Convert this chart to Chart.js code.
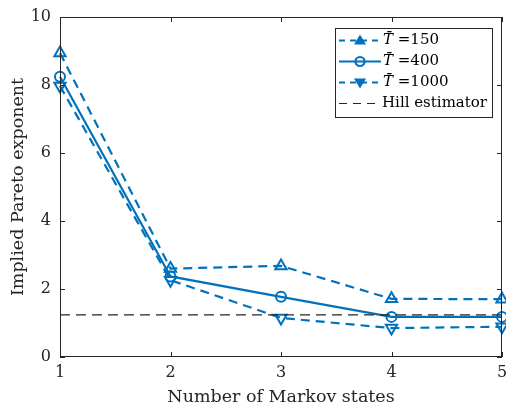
<!DOCTYPE html>
<html>
<head>
<meta charset="utf-8">
<script src="https://cdn.jsdelivr.net/npm/chart.js@4/dist/chart.umd.min.js"></script>
<style>
  html, body { margin: 0; padding: 0; background: #fff; }
  #wrap { width: 506px; height: 408px; }
</style>
</head>
<body>
<div id="wrap"><canvas id="paretoChart" width="506" height="408"></canvas></div>
<script>
// data
const markovStates = ['1', '2', '3', '4', '5'];
const t150 = [8.94, 2.60, 2.68, 1.71, 1.70];
const t400 = [8.24, 2.37, 1.77, 1.18, 1.18];
const t1000 = [7.97, 2.26, 1.15, 0.85, 0.89];
const hillValue = 1.24;
const hill = markovStates.map(() => hillValue);
const yTicks = [0, 2, 4, 6, 8, 10];

const blue = '#0072BD';
const serif = '"DejaVu Serif", "Liberation Serif", serif';
const noPad = () => ({ left: 0, top: 0, right: 0, bottom: 0 });

// box round the plot + inward ticks, like matlab
const boxPlugin = {
    id: 'boxPlugin',
    afterDraw(chart) {
        const { ctx, chartArea: a, scales } = chart;
        ctx.save();
        ctx.strokeStyle = '#262626';
        ctx.lineWidth = 1;
        ctx.strokeRect(a.left + 0.5, a.top + 0.5, a.right - a.left - 1, a.bottom - a.top - 1);
        ctx.beginPath();
        markovStates.forEach((s, i) => {
            const x = Math.round(scales.x.getPixelForValue(i)) + 0.5;
            ctx.moveTo(x, a.bottom); ctx.lineTo(x, a.bottom - 5);
            ctx.moveTo(x, a.top); ctx.lineTo(x, a.top + 5);
        });
        yTicks.forEach(v => {
            const y = Math.round(scales.y.getPixelForValue(v)) + 0.5;
            ctx.moveTo(a.left, y); ctx.lineTo(a.left + 5, y);
            ctx.moveTo(a.right, y); ctx.lineTo(a.right - 5, y);
        });
        ctx.stroke();
        ctx.restore();
    }
};

// legend drawn by hand so the T-bar can be italic
const legendPlugin = {
    id: 'legendPlugin',
    afterDraw(chart) {
        const ctx = chart.ctx;
        const bx = 335, by = 28, bw = 157, bh = 89;
        ctx.save();
        ctx.fillStyle = '#fff';
        ctx.fillRect(bx, by, bw, bh);
        ctx.strokeStyle = '#262626';
        ctx.lineWidth = 1;
        ctx.strokeRect(bx + 0.5, by + 0.5, bw, bh);

        const rows = [
            { label: '150', dash: [6, 5], marker: 'up', color: blue },
            { label: '400', dash: [], marker: 'circle', color: blue },
            { label: '1000', dash: [6, 5], marker: 'down', color: blue },
            { label: 'Hill estimator', dash: [8, 6], marker: null, color: '#262626' }
        ];
        rows.forEach((r, i) => {
            const y = by + 12.5 + i * 21;
            ctx.strokeStyle = r.color;
            ctx.lineWidth = r.marker ? 2.2 : 1.2;
            ctx.setLineDash(r.dash);
            ctx.beginPath();
            ctx.moveTo(bx + 4, y); ctx.lineTo(bx + 46, y);
            ctx.stroke();
            ctx.setLineDash([]);
            const cx = bx + 25;
            if (r.marker === 'up' || r.marker === 'down') {
                const s = r.marker === 'up' ? -1 : 1;
                ctx.fillStyle = r.color;
                ctx.beginPath();
                ctx.moveTo(cx, y + s * 6);
                ctx.lineTo(cx - 6, y - s * 4);
                ctx.lineTo(cx + 6, y - s * 4);
                ctx.closePath();
                ctx.fill();
            } else if (r.marker === 'circle') {
                ctx.beginPath();
                ctx.arc(cx, y, 4.5, 0, Math.PI * 2);
                ctx.stroke();
            }
            ctx.fillStyle = '#000';
            ctx.textBaseline = 'middle';
            if (r.marker) {
                ctx.font = 'italic 15px ' + serif;
                ctx.fillText('T\u0304', bx + 48, y);
                ctx.font = '15px ' + serif;
                ctx.fillText(' =' + r.label, bx + 58, y);
            } else {
                ctx.font = '15px ' + serif;
                ctx.fillText(r.label, bx + 47, y);
            }
        });
        ctx.restore();
    }
};

const ctxPareto = document.getElementById('paretoChart').getContext('2d');

const seriesCfg = (label, data, dash, style, rot) => ({
    label,
    data,
    borderColor: blue,
    backgroundColor: 'transparent',
    borderWidth: 2.2,
    borderDash: dash,
    pointStyle: style,
    pointRotation: rot,
    pointRadius: style === 'circle' ? 5 : 6.5,
    pointBorderWidth: 2,
    pointBorderColor: blue,
    pointBackgroundColor: 'transparent',
    tension: 0,
    clip: false
});

new Chart(ctxPareto, {
    type: 'line',
    data: {
        labels: markovStates,
        datasets: [
            {
                label: 'Hill estimator',
                data: hill,
                borderColor: '#262626',
                borderWidth: 1.2,
                borderDash: [10, 6],
                pointRadius: 0,
                fill: false
            },
            seriesCfg('T150', t150, [9, 6], 'triangle', 0),
            seriesCfg('T400', t400, [], 'circle', 0),
            seriesCfg('T1000', t1000, [9, 6], 'triangle', 180)
        ]
    },
    options: {
        responsive: false,
        animation: false,
        devicePixelRatio: 1,
        // autoPadding off so the markers don't shrink the plot area
        layout: { autoPadding: false, padding: { top: 17, right: 4, left: 0, bottom: 0 } },
        plugins: {
            legend: { display: false },
            tooltip: { enabled: false }
        },
        scales: {
            x: {
                offset: false,
                grid: { display: false, drawTicks: false },
                border: { display: false },
                ticks: {
                    color: '#262626',
                    font: { family: serif, size: 16 },
                    padding: 6,
                    maxRotation: 0
                },
                title: {
                    display: true,
                    text: 'Number of Markov states',
                    color: '#262626',
                    font: { family: serif, size: 17.5 },
                    padding: { top: 0, bottom: 0 }
                },
                afterFit(scale) {
                    scale.height = 51;
                    scale.getPadding = noPad;
                }
            },
            y: {
                min: 0,
                max: 10,
                afterBuildTicks(scale) { scale.ticks = yTicks.map(v => ({ value: v })); },
                grid: { display: false, drawTicks: false },
                border: { display: false },
                ticks: {
                    color: '#262626',
                    font: { family: serif, size: 16 },
                    padding: 9
                },
                title: {
                    display: true,
                    text: 'Implied Pareto exponent',
                    color: '#262626',
                    font: { family: serif, size: 17.5 },
                    padding: { top: 8, bottom: 0 }
                },
                afterFit(scale) {
                    scale.width = 60;
                    scale.getPadding = noPad;
                }
            }
        }
    },
    plugins: [boxPlugin, legendPlugin]
});
</script>
</body>
</html>
